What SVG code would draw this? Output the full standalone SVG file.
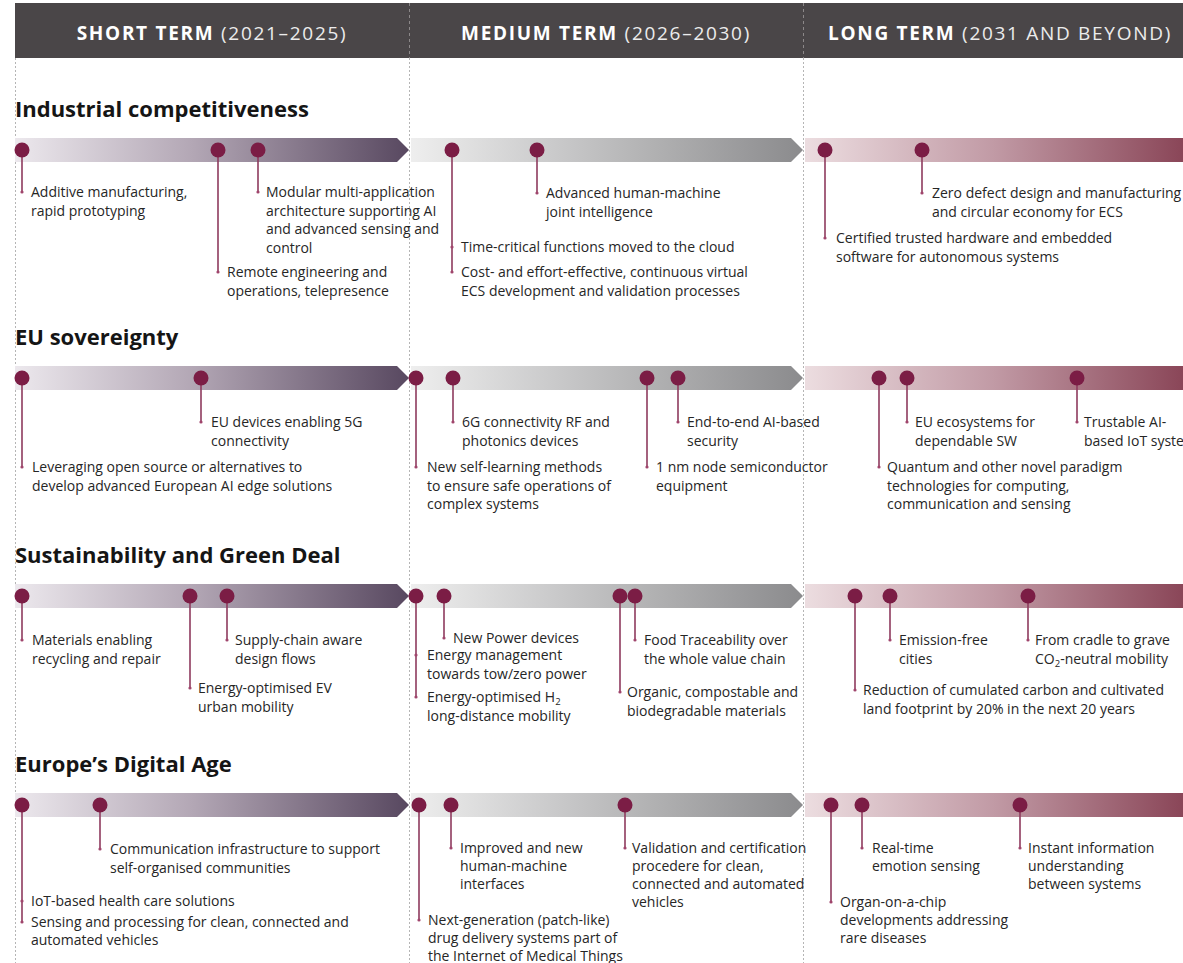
<svg xmlns="http://www.w3.org/2000/svg" width="1183" height="963" viewBox="0 0 1183 963">
<defs>
<linearGradient id="gS" x1="0" y1="0" x2="1" y2="0"><stop offset="0" stop-color="#ece8ed"/><stop offset="0.45" stop-color="#b3a7b5"/><stop offset="1" stop-color="#584860"/></linearGradient>
<linearGradient id="gM" x1="0" y1="0" x2="1" y2="0"><stop offset="0" stop-color="#eeeeee"/><stop offset="1" stop-color="#8b8b8d"/></linearGradient>
<linearGradient id="gL" x1="0" y1="0" x2="1" y2="0"><stop offset="0" stop-color="#ecdde0"/><stop offset="0.5" stop-color="#c19aa5"/><stop offset="1" stop-color="#8a4658"/></linearGradient>
<style>
.t{font-family:"Open Sans","Noto Sans","DejaVu Sans",sans-serif;font-size:14px;fill:#262626}
.sec{font-family:"Open Sans","Noto Sans","DejaVu Sans",sans-serif;font-size:22px;font-weight:bold;fill:#151515}
.hd{font-family:"Open Sans","Noto Sans","DejaVu Sans",sans-serif;font-size:19px;fill:#ececec;letter-spacing:1.7px}
.hd .b{font-weight:bold;fill:#ffffff}
.pin{fill:#7b1d45}
.stem{stroke:#8e3a5e;stroke-width:1.6;fill:none}
.dot{fill:#a0456c}
.vl{stroke:#b5b5b5;stroke-width:1;stroke-dasharray:2 2}
.vh{stroke:#8c8889;stroke-width:1;stroke-dasharray:3 3}
.sub{font-size:9.5px}
</style>
</defs>
<rect width="1183" height="963" fill="#ffffff"/>
<g id="gridlines">
<line class="vl" x1="15.5" y1="58" x2="15.5" y2="963"/>
<line class="vl" x1="409.5" y1="58" x2="409.5" y2="963"/>
<line class="vl" x1="803.5" y1="58" x2="803.5" y2="963"/>
</g>
<g id="header">
<rect x="15" y="3" width="1168" height="55" fill="#4a4648"/>
<line class="vh" x1="409.5" y1="3" x2="409.5" y2="58"/>
<line class="vh" x1="803.5" y1="3" x2="803.5" y2="58"/>
<text class="hd" x="212" y="40" text-anchor="middle"><tspan class="b">SHORT TERM</tspan> (2021–2025)</text>
<text class="hd" x="606" y="40" text-anchor="middle"><tspan class="b">MEDIUM TERM</tspan> (2026–2030)</text>
<text class="hd" x="1000" y="40" text-anchor="middle"><tspan class="b">LONG TERM</tspan> (2031 AND BEYOND)</text>
</g>
<g id="titles">
<text class="sec" x="15" y="117">Industrial competitiveness</text>
<text class="sec" x="15" y="345">EU sovereignty</text>
<text class="sec" x="15" y="563">Sustainability and Green Deal</text>
<text class="sec" x="15" y="772">Europe’s Digital Age</text>
</g>
<g id="bands">
<g id="band-1">
<polygon fill="url(#gS)" points="15,138 397,138 409,150 397,162 15,162"/>
<polygon fill="url(#gM)" points="411,138 791,138 803,150 791,162 411,162"/>
<polygon fill="url(#gL)" points="805,138 1183,138 1183,162 805,162"/>
</g>
<g id="band-2">
<polygon fill="url(#gS)" points="15,366 397,366 409,378 397,390 15,390"/>
<polygon fill="url(#gM)" points="411,366 791,366 803,378 791,390 411,390"/>
<polygon fill="url(#gL)" points="805,366 1183,366 1183,390 805,390"/>
</g>
<g id="band-3">
<polygon fill="url(#gS)" points="15,584 397,584 409,596 397,608 15,608"/>
<polygon fill="url(#gM)" points="411,584 791,584 803,596 791,608 411,608"/>
<polygon fill="url(#gL)" points="805,584 1183,584 1183,608 805,608"/>
</g>
<g id="band-4">
<polygon fill="url(#gS)" points="15,793 397,793 409,805 397,817 15,817"/>
<polygon fill="url(#gM)" points="411,793 791,793 803,805 791,817 411,817"/>
<polygon fill="url(#gL)" points="805,793 1183,793 1183,817 805,817"/>
</g>
</g>
<g id="connectors">
<line class="stem" x1="22" y1="150" x2="22" y2="192"/>
<line class="stem" x1="218" y1="150" x2="218" y2="272"/>
<line class="stem" x1="258" y1="150" x2="258" y2="192"/>
<line class="stem" x1="452" y1="150" x2="452" y2="272"/>
<line class="stem" x1="537" y1="150" x2="537" y2="193"/>
<line class="stem" x1="825" y1="150" x2="825" y2="238"/>
<line class="stem" x1="922" y1="150" x2="922" y2="193"/>
<line class="stem" x1="22" y1="378" x2="22" y2="467"/>
<line class="stem" x1="201" y1="378" x2="201" y2="422"/>
<line class="stem" x1="416" y1="378" x2="416" y2="467"/>
<line class="stem" x1="453" y1="378" x2="453" y2="422"/>
<line class="stem" x1="647" y1="378" x2="647" y2="467"/>
<line class="stem" x1="678" y1="378" x2="678" y2="422"/>
<line class="stem" x1="879" y1="378" x2="879" y2="467"/>
<line class="stem" x1="907" y1="378" x2="907" y2="422"/>
<line class="stem" x1="1077" y1="378" x2="1077" y2="422"/>
<line class="stem" x1="22" y1="596" x2="22" y2="640"/>
<line class="stem" x1="190" y1="596" x2="190" y2="688"/>
<line class="stem" x1="227" y1="596" x2="227" y2="640"/>
<line class="stem" x1="416" y1="596" x2="416" y2="697"/>
<line class="stem" x1="444" y1="596" x2="444" y2="638"/>
<line class="stem" x1="620" y1="596" x2="620" y2="692"/>
<line class="stem" x1="635" y1="596" x2="635" y2="640"/>
<line class="stem" x1="855" y1="596" x2="855" y2="690"/>
<line class="stem" x1="890" y1="596" x2="890" y2="640"/>
<line class="stem" x1="1028" y1="596" x2="1028" y2="640"/>
<line class="stem" x1="22" y1="805" x2="22" y2="922"/>
<line class="stem" x1="100" y1="805" x2="100" y2="849"/>
<line class="stem" x1="419" y1="805" x2="419" y2="920"/>
<line class="stem" x1="451" y1="805" x2="451" y2="848"/>
<line class="stem" x1="625" y1="805" x2="625" y2="848"/>
<line class="stem" x1="831" y1="805" x2="831" y2="902"/>
<line class="stem" x1="862" y1="805" x2="862" y2="848"/>
<line class="stem" x1="1020" y1="805" x2="1020" y2="848"/>
</g>
<g id="n-additive"><circle class="pin" cx="22" cy="150" r="7.5"/><circle class="dot" cx="22" cy="192" r="1.6"/>
<text class="t"><tspan x="31" y="197">Additive manufacturing,</tspan><tspan x="31" y="215.5">rapid prototyping</tspan></text></g>
<g id="n-remote"><circle class="pin" cx="218" cy="150" r="7.5"/><circle class="dot" cx="218" cy="272" r="1.6"/>
<text class="t"><tspan x="227" y="277">Remote engineering and</tspan><tspan x="227" y="295.5">operations, telepresence</tspan></text></g>
<g id="n-modular"><circle class="pin" cx="258" cy="150" r="7.5"/><circle class="dot" cx="258" cy="192" r="1.6"/>
<text class="t"><tspan x="266" y="197">Modular multi-application</tspan><tspan x="266" y="215.5">architecture supporting AI</tspan><tspan x="266" y="234">and advanced sensing and</tspan><tspan x="266" y="252.5">control</tspan></text></g>
<g id="n-timecritical"><circle class="pin" cx="452" cy="150" r="7.5"/><circle class="dot" cx="452" cy="247" r="1.6"/><circle class="dot" cx="452" cy="272" r="1.6"/>
<text class="t"><tspan x="461" y="252">Time-critical functions moved to the cloud</tspan></text>
<text class="t"><tspan x="461" y="277">Cost- and effort-effective, continuous virtual</tspan><tspan x="461" y="295.5">ECS development and validation processes</tspan></text></g>
<g id="n-advanced"><circle class="pin" cx="537" cy="150" r="7.5"/><circle class="dot" cx="537" cy="193" r="1.6"/>
<text class="t"><tspan x="546" y="198">Advanced human-machine</tspan><tspan x="546" y="216.5">joint intelligence</tspan></text></g>
<g id="n-certified"><circle class="pin" cx="825" cy="150" r="7.5"/><circle class="dot" cx="825" cy="238" r="1.6"/>
<text class="t"><tspan x="836" y="243">Certified trusted hardware and embedded</tspan><tspan x="836" y="261.5">software for autonomous systems</tspan></text></g>
<g id="n-zerodefect"><circle class="pin" cx="922" cy="150" r="7.5"/><circle class="dot" cx="922" cy="193" r="1.6"/>
<text class="t"><tspan x="932" y="198">Zero defect design and manufacturing</tspan><tspan x="932" y="216.5">and circular economy for ECS</tspan></text></g>
<g id="n-leveraging"><circle class="pin" cx="22" cy="378" r="7.5"/><circle class="dot" cx="22" cy="467" r="1.6"/>
<text class="t"><tspan x="32" y="472">Leveraging open source or alternatives to</tspan><tspan x="32" y="490.5">develop advanced European AI edge solutions</tspan></text></g>
<g id="n-5g"><circle class="pin" cx="201" cy="378" r="7.5"/><circle class="dot" cx="201" cy="422" r="1.6"/>
<text class="t"><tspan x="211" y="427">EU devices enabling 5G</tspan><tspan x="211" y="445.5">connectivity</tspan></text></g>
<g id="n-selflearning"><circle class="pin" cx="416" cy="378" r="7.5"/><circle class="dot" cx="416" cy="467" r="1.6"/>
<text class="t"><tspan x="427" y="472">New self-learning methods</tspan><tspan x="427" y="490.5">to ensure safe operations of</tspan><tspan x="427" y="509">complex systems</tspan></text></g>
<g id="n-6g"><circle class="pin" cx="453" cy="378" r="7.5"/><circle class="dot" cx="453" cy="422" r="1.6"/>
<text class="t"><tspan x="462" y="427">6G connectivity RF and</tspan><tspan x="462" y="445.5">photonics devices</tspan></text></g>
<g id="n-1nm"><circle class="pin" cx="647" cy="378" r="7.5"/><circle class="dot" cx="647" cy="467" r="1.6"/>
<text class="t"><tspan x="656" y="472">1 nm node semiconductor</tspan><tspan x="656" y="490.5">equipment</tspan></text></g>
<g id="n-e2e"><circle class="pin" cx="678" cy="378" r="7.5"/><circle class="dot" cx="678" cy="422" r="1.6"/>
<text class="t"><tspan x="687" y="427">End-to-end AI-based</tspan><tspan x="687" y="445.5">security</tspan></text></g>
<g id="n-quantum"><circle class="pin" cx="879" cy="378" r="7.5"/><circle class="dot" cx="879" cy="467" r="1.6"/>
<text class="t"><tspan x="887" y="472">Quantum and other novel paradigm</tspan><tspan x="887" y="490.5">technologies for computing,</tspan><tspan x="887" y="509">communication and sensing</tspan></text></g>
<g id="n-ecosystems"><circle class="pin" cx="907" cy="378" r="7.5"/><circle class="dot" cx="907" cy="422" r="1.6"/>
<text class="t"><tspan x="915" y="427">EU ecosystems for</tspan><tspan x="915" y="445.5">dependable SW</tspan></text></g>
<g id="n-trustable"><circle class="pin" cx="1077" cy="378" r="7.5"/><circle class="dot" cx="1077" cy="422" r="1.6"/>
<text class="t"><tspan x="1084" y="427">Trustable AI-</tspan><tspan x="1084" y="445.5">based IoT systems</tspan></text></g>
<g id="n-materials"><circle class="pin" cx="22" cy="596" r="7.5"/><circle class="dot" cx="22" cy="640" r="1.6"/>
<text class="t"><tspan x="32" y="645">Materials enabling</tspan><tspan x="32" y="663.5">recycling and repair</tspan></text></g>
<g id="n-ev"><circle class="pin" cx="190" cy="596" r="7.5"/><circle class="dot" cx="190" cy="688" r="1.6"/>
<text class="t"><tspan x="198" y="693">Energy-optimised EV</tspan><tspan x="198" y="711.5">urban mobility</tspan></text></g>
<g id="n-supply"><circle class="pin" cx="227" cy="596" r="7.5"/><circle class="dot" cx="227" cy="640" r="1.6"/>
<text class="t"><tspan x="235" y="645">Supply-chain aware</tspan><tspan x="235" y="663.5">design flows</tspan></text></g>
<g id="n-energy"><circle class="pin" cx="416" cy="596" r="7.5"/><circle class="dot" cx="416" cy="655" r="1.6"/><circle class="dot" cx="416" cy="697" r="1.6"/>
<text class="t"><tspan x="427" y="660">Energy management</tspan><tspan x="427" y="678.5">towards tow/zero power</tspan></text>
<text class="t"><tspan x="427" y="702">Energy-optimised H</tspan><tspan class="sub" dy="3">2</tspan><tspan x="427" y="720.5">long-distance mobility</tspan></text></g>
<g id="n-power"><circle class="pin" cx="444" cy="596" r="7.5"/><circle class="dot" cx="444" cy="638" r="1.6"/>
<text class="t"><tspan x="453" y="643">New Power devices</tspan></text></g>
<g id="n-organic"><circle class="pin" cx="620" cy="596" r="7.5"/><circle class="dot" cx="620" cy="692" r="1.6"/>
<text class="t"><tspan x="627" y="697">Organic, compostable and</tspan><tspan x="627" y="715.5">biodegradable materials</tspan></text></g>
<g id="n-food"><circle class="pin" cx="635" cy="596" r="7.5"/><circle class="dot" cx="635" cy="640" r="1.6"/>
<text class="t"><tspan x="644" y="645">Food Traceability over</tspan><tspan x="644" y="663.5">the whole value chain</tspan></text></g>
<g id="n-reduction"><circle class="pin" cx="855" cy="596" r="7.5"/><circle class="dot" cx="855" cy="690" r="1.6"/>
<text class="t"><tspan x="863" y="695">Reduction of cumulated carbon and cultivated</tspan><tspan x="863" y="713.5">land footprint by 20% in the next 20 years</tspan></text></g>
<g id="n-emission"><circle class="pin" cx="890" cy="596" r="7.5"/><circle class="dot" cx="890" cy="640" r="1.6"/>
<text class="t"><tspan x="899" y="645">Emission-free</tspan><tspan x="899" y="663.5">cities</tspan></text></g>
<g id="n-cradle"><circle class="pin" cx="1028" cy="596" r="7.5"/><circle class="dot" cx="1028" cy="640" r="1.6"/>
<text class="t"><tspan x="1035" y="645">From cradle to grave</tspan><tspan x="1035" y="663.5">CO</tspan><tspan class="sub" dy="3">2</tspan><tspan dy="-3">-neutral mobility</tspan></text></g>
<g id="n-iot"><circle class="pin" cx="22" cy="805" r="7.5"/><circle class="dot" cx="22" cy="901" r="1.6"/><circle class="dot" cx="22" cy="922" r="1.6"/>
<text class="t"><tspan x="31" y="906">IoT-based health care solutions</tspan></text>
<text class="t"><tspan x="31" y="927">Sensing and processing for clean, connected and</tspan><tspan x="31" y="945">automated vehicles</tspan></text></g>
<g id="n-communication"><circle class="pin" cx="100" cy="805" r="7.5"/><circle class="dot" cx="100" cy="849" r="1.6"/>
<text class="t"><tspan x="110" y="854">Communication infrastructure to support</tspan><tspan x="110" y="872.5">self-organised communities</tspan></text></g>
<g id="n-nextgen"><circle class="pin" cx="419" cy="805" r="7.5"/><circle class="dot" cx="419" cy="920" r="1.6"/>
<text class="t"><tspan x="428" y="925">Next-generation (patch-like)</tspan><tspan x="428" y="943">drug delivery systems part of</tspan><tspan x="428" y="961">the Internet of Medical Things</tspan></text></g>
<g id="n-improved"><circle class="pin" cx="451" cy="805" r="7.5"/><circle class="dot" cx="451" cy="848" r="1.6"/>
<text class="t"><tspan x="460" y="853">Improved and new</tspan><tspan x="460" y="871">human-machine</tspan><tspan x="460" y="889">interfaces</tspan></text></g>
<g id="n-validation"><circle class="pin" cx="625" cy="805" r="7.5"/><circle class="dot" cx="625" cy="848" r="1.6"/>
<text class="t"><tspan x="632" y="853">Validation and certification</tspan><tspan x="632" y="871">procedere for clean,</tspan><tspan x="632" y="889">connected and automated</tspan><tspan x="632" y="907">vehicles</tspan></text></g>
<g id="n-organ"><circle class="pin" cx="831" cy="805" r="7.5"/><circle class="dot" cx="831" cy="902" r="1.6"/>
<text class="t"><tspan x="840" y="907">Organ-on-a-chip</tspan><tspan x="840" y="925">developments addressing</tspan><tspan x="840" y="943">rare diseases</tspan></text></g>
<g id="n-realtime"><circle class="pin" cx="862" cy="805" r="7.5"/><circle class="dot" cx="862" cy="848" r="1.6"/>
<text class="t"><tspan x="872" y="853">Real-time</tspan><tspan x="872" y="871">emotion sensing</tspan></text></g>
<g id="n-instant"><circle class="pin" cx="1020" cy="805" r="7.5"/><circle class="dot" cx="1020" cy="848" r="1.6"/>
<text class="t"><tspan x="1028" y="853">Instant information</tspan><tspan x="1028" y="871">understanding</tspan><tspan x="1028" y="889">between systems</tspan></text></g>
</svg>
